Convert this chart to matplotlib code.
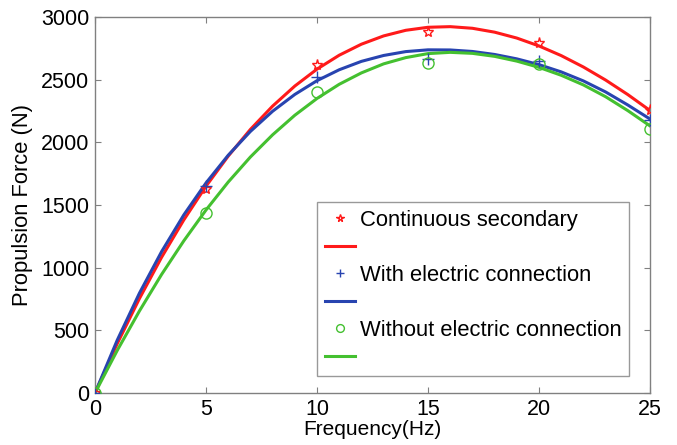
import matplotlib
matplotlib.use("Agg")
import matplotlib.pyplot as plt

plt.rcParams['font.family'] = ['Liberation Sans', 'DejaVu Sans']

# measured points
freq = [0, 5, 10, 15, 20, 25]
continuous = [0, 1625, 2617, 2882, 2792, 2258]
with_conn = [0, 1650, 2519, 2665, 2650, 2178]
without_conn = [0, 1436, 2404, 2631, 2623, 2104]

# fitted curves (1 Hz steps)
freq_curve = list(range(0, 26))
continuous_curve = [0, 393, 753, 1083, 1381, 1650, 1890, 2103, 2289, 2449, 2584,
                    2695, 2783, 2849, 2894, 2918, 2923, 2910, 2879, 2832, 2769,
                    2692, 2601, 2497, 2381, 2254]
with_conn_curve = [0, 421, 796, 1128, 1421, 1676, 1897, 2087, 2248, 2382, 2492,
                   2579, 2646, 2693, 2724, 2738, 2737, 2725, 2701, 2666, 2620,
                   2562, 2490, 2402, 2298, 2186]
without_conn_curve = [0, 339, 654, 946, 1214, 1460, 1683, 1883, 2060, 2216, 2350,
                      2463, 2554, 2626, 2676, 2708, 2718, 2710, 2686, 2648, 2598,
                      2535, 2458, 2364, 2253, 2131]

labels = ["Continuous secondary", "With electric connection", "Without electric connection"]
colors = ["#ff1a1a", "#2844b0", "#44c030"]
markers = ["*", "+", "o"]

fig = plt.figure(figsize=(6.77, 4.45), dpi=100)
ax = fig.add_axes([95/677, 1-393/445, 555/677, 376/445])

handles = []
for y, yc, c, m, lab in zip([continuous, with_conn, without_conn],
                            [continuous_curve, with_conn_curve, without_conn_curve],
                            colors, markers, labels):
    mk, = ax.plot(freq, y, linestyle='none', marker=m, color=c,
                  markersize=8, markerfacecolor='none',
                  markeredgewidth=1.0, label=lab, zorder=3)
    ln, = ax.plot(freq_curve, yc, color=c, lw=2.2, zorder=2, solid_joinstyle='round')
    handles += [mk, ln]

ax.set_xlim(0, 25)
ax.set_ylim(0, 3000)
ax.set_xticks([0, 5, 10, 15, 20, 25])
ax.set_yticks(range(0, 3001, 500))
ax.tick_params(direction='in', top=True, right=True, length=4, color='#808080',
               labelsize=15.5, pad=4)
for s in ax.spines.values():
    s.set_color('#808080')
    s.set_linewidth(1.0)
ax.set_xlabel("Frequency(Hz)", fontsize=15, labelpad=0)
ax.set_ylabel("Propulsion Force (N)", fontsize=15.8, labelpad=6)

leg = ax.legend(handles=handles, labels=[labels[0], '', labels[1], '', labels[2], ''],
                loc='upper left', bbox_to_anchor=(317/677, 1-202/445), bbox_transform=fig.transFigure,
                borderaxespad=0,
                fontsize=15.8, frameon=True, fancybox=False, edgecolor='#808080',
                handlelength=1.4, handletextpad=0.2, borderpad=0.35, labelspacing=0.3,
                markerscale=0.7)
leg.get_frame().set_linewidth(1.0)

fig.savefig("out.png", dpi=100)
